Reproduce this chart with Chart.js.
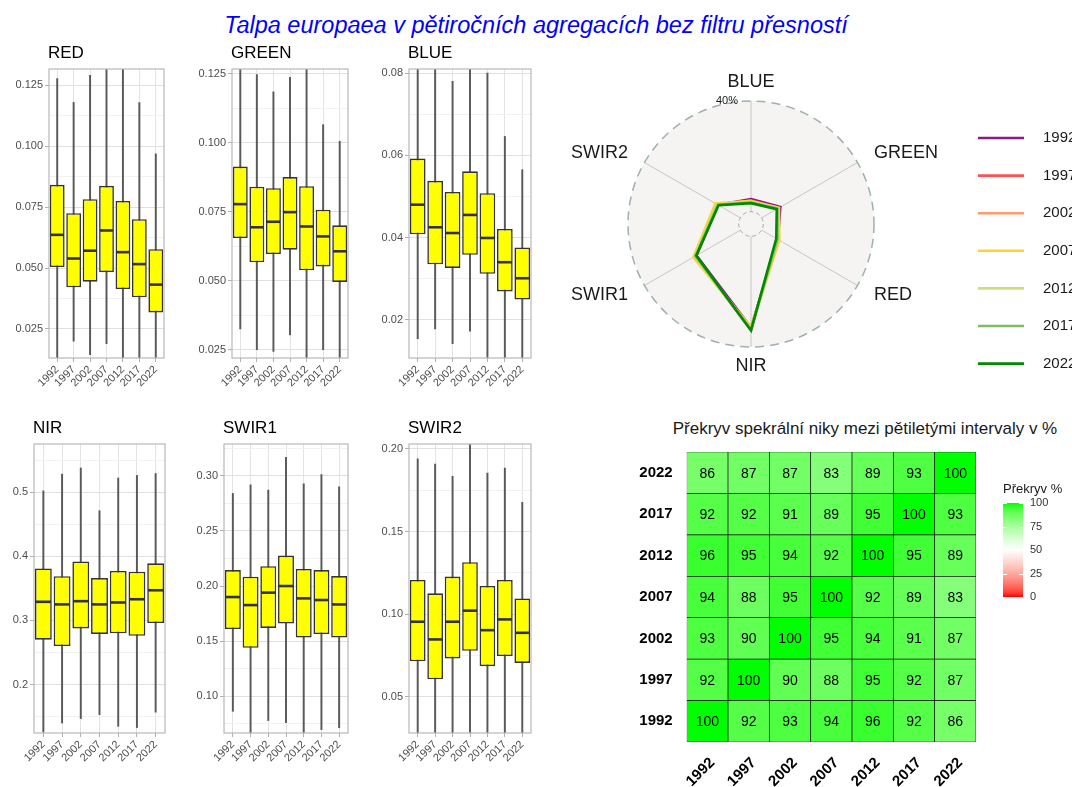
<!DOCTYPE html>
<html>
<head>
<meta charset="utf-8">
<script src="https://cdn.jsdelivr.net/npm/chart.js@4.4.1/dist/chart.umd.min.js"></script>
<style>
  body { margin: 0; width: 1072px; height: 787px; overflow: hidden; background: #fff; position: relative;
         font-family: "Liberation Sans", Arial, sans-serif; }
  canvas, .txt { position: absolute; }
  #mainTitle { left: 0; width: 1072px; top: 11px; text-align: center; color: #0000ff; font-style: italic; font-size: 23.5px; line-height: 28px; }
  .ptitle { font-size: 17px; line-height: 17px; color: #000; }
  #hmTitle { left: 615px; width: 500px; top: 419px; text-align: center; font-size: 17px; line-height: 20px; color: #1a1a1a; }
</style>
</head>
<body>
<div id="mainTitle" class="txt">Talpa europaea v pětiročních agregacích bez filtru přesností</div>
<div id="hmTitle" class="txt">Překryv spekrální niky mezi pětiletými intervaly v %</div>
<script>
Chart.defaults.font.family = '"Liberation Sans", Arial, sans-serif';

// pětileté intervaly
const years = ['1992', '1997', '2002', '2007', '2012', '2017', '2022'];

// reflektance po pásmech: whisker dole, Q1, medián, Q3, whisker nahoře
const redLo  = [0.0100, 0.0200, 0.0145, 0.0190, 0.0100, 0.0100, 0.0100];
const redQ1  = [0.0504, 0.0421, 0.0444, 0.0483, 0.0414, 0.0380, 0.0318];
const redMed = [0.0636, 0.0539, 0.0571, 0.0654, 0.0565, 0.0516, 0.0432];
const redQ3  = [0.0841, 0.0725, 0.0782, 0.0837, 0.0775, 0.0700, 0.0577];
const redHi  = [0.1277, 0.1179, 0.1290, 0.1350, 0.1350, 0.1178, 0.0968];

const greenLo  = [0.0325, 0.0250, 0.0244, 0.0304, 0.0200, 0.0250, 0.0200];
const greenQ1  = [0.0655, 0.0567, 0.0597, 0.0613, 0.0538, 0.0552, 0.0496];
const greenMed = [0.0778, 0.0694, 0.0714, 0.0749, 0.0697, 0.0661, 0.0607];
const greenQ3  = [0.0914, 0.0841, 0.0836, 0.0876, 0.0843, 0.0758, 0.0701];
const greenHi  = [0.1300, 0.1248, 0.1185, 0.1238, 0.1300, 0.1066, 0.1006];

const blueLo  = [0.0154, 0.0178, 0.0142, 0.0172, 0.0090, 0.0090, 0.0090];
const blueQ1  = [0.0408, 0.0335, 0.0326, 0.0358, 0.0312, 0.0269, 0.0249];
const blueMed = [0.0480, 0.0425, 0.0411, 0.0455, 0.0399, 0.0340, 0.0301];
const blueQ3  = [0.0592, 0.0538, 0.0511, 0.0561, 0.0508, 0.0421, 0.0376];
const blueHi  = [0.0830, 0.0830, 0.0780, 0.0830, 0.0800, 0.0646, 0.0565];

const nirLo  = [0.126, 0.140, 0.147, 0.153, 0.135, 0.133, 0.157];
const nirQ1  = [0.270, 0.260, 0.2875, 0.279, 0.280, 0.276, 0.296];
const nirMed = [0.329, 0.325, 0.330, 0.325, 0.328, 0.333, 0.347];
const nirQ3  = [0.381, 0.369, 0.392, 0.366, 0.377, 0.376, 0.389];
const nirHi  = [0.502, 0.528, 0.5375, 0.471, 0.522, 0.526, 0.529];

const swir1Lo  = [0.0864, 0.0600, 0.0780, 0.0760, 0.0600, 0.0697, 0.0715];
const swir1Q1  = [0.1610, 0.1440, 0.1620, 0.1660, 0.1533, 0.1564, 0.1533];
const swir1Med = [0.1900, 0.1827, 0.1940, 0.2000, 0.1888, 0.1873, 0.1833];
const swir1Q3  = [0.2145, 0.2085, 0.2180, 0.2276, 0.2155, 0.2145, 0.2090];
const swir1Hi  = [0.2840, 0.2918, 0.2870, 0.3167, 0.2927, 0.3010, 0.2900];

const swir2Lo  = [0.0250, 0.0250, 0.0250, 0.0250, 0.0250, 0.0250, 0.0250];
const swir2Q1  = [0.0716, 0.0607, 0.0733, 0.0779, 0.0686, 0.0747, 0.0706];
const swir2Med = [0.0955, 0.0848, 0.0955, 0.1022, 0.0904, 0.0969, 0.0888];
const swir2Q3  = [0.1208, 0.1127, 0.1228, 0.1315, 0.1171, 0.1208, 0.1096];
const swir2Hi  = [0.1940, 0.1909, 0.1834, 0.2100, 0.1854, 0.1885, 0.1677];

// popisky os y
const redTicks   = [0.025, 0.050, 0.075, 0.100, 0.125];
const greenTicks = [0.025, 0.050, 0.075, 0.100, 0.125];
const blueTicks  = [0.02, 0.04, 0.06, 0.08];
const nirTicks   = [0.2, 0.3, 0.4, 0.5];
const swir1Ticks = [0.10, 0.15, 0.20, 0.25, 0.30];
const swir2Ticks = [0.05, 0.10, 0.15, 0.20];

// radar: podíl pásem v % (BLUE, GREEN, RED, NIR, SWIR1, SWIR2)
const bands = ['BLUE', 'GREEN', 'RED', 'NIR', 'SWIR1', 'SWIR2'];
const niche1992 = [4.6, 7.8, 6.8, 33.0, 18.3, 9.3];
const niche1997 = [4.0, 7.2, 6.4, 34.0, 18.8, 9.4];
const niche2002 = [3.8, 7.0, 6.6, 33.6, 19.0, 9.8];
const niche2007 = [3.9, 7.2, 7.4, 32.8, 19.6, 10.4];
const niche2012 = [3.6, 6.9, 6.9, 33.4, 19.0, 9.8];
const niche2017 = [3.3, 6.6, 6.6, 33.8, 18.7, 9.4];
const niche2022 = [3.1, 6.3, 6.1, 34.0, 18.4, 9.1];
const yearColors = ['#8b1a8b', '#ff5252', '#ff9b6b', '#ffd22e', '#c9e07c', '#7fbc63', '#008a00'];

// překryv nik mezi intervaly (řádky odspodu 1992 -> 2022)
const overlap1992 = [100, 92, 93, 94, 96, 92, 86];
const overlap1997 = [92, 100, 90, 88, 95, 92, 87];
const overlap2002 = [93, 90, 100, 95, 94, 91, 87];
const overlap2007 = [94, 88, 95, 100, 92, 89, 83];
const overlap2012 = [96, 95, 94, 92, 100, 95, 89];
const overlap2017 = [92, 92, 91, 89, 95, 100, 93];
const overlap2022 = [86, 87, 87, 83, 89, 93, 100];
const scaleTicks = [0, 25, 50, 75, 100];

// ---------- boxploty ----------
const medianLines = {
  id: 'medianLines',
  afterDatasetsDraw(chart) {
    const meds = chart.data.datasets[0].medians;
    const y = chart.scales.y;
    const ctx = chart.ctx;
    ctx.save();
    ctx.strokeStyle = '#333333';
    ctx.lineWidth = 2.6;
    chart.getDatasetMeta(0).data.forEach((bar, i) => {
      const p = bar.getProps(['x', 'width'], true);
      const py = y.getPixelForValue(meds[i]);
      ctx.beginPath();
      ctx.moveTo(p.x - p.width / 2 + 0.8, py);
      ctx.lineTo(p.x + p.width / 2 - 0.8, py);
      ctx.stroke();
    });
    ctx.restore();
  }
};

const panelFrame = {
  id: 'panelFrame',
  afterDraw(chart) {
    const a = chart.chartArea;
    const ctx = chart.ctx;
    ctx.save();
    ctx.strokeStyle = '#b8b8b8';
    ctx.lineWidth = 1.2;
    ctx.strokeRect(a.left, a.top, a.right - a.left, a.bottom - a.top);
    ctx.restore();
  }
};

function boxPanel(p) {
  const [x0, y0, x1, y1] = p.area;
  const yw = 45, xh = 42, pt = 8, pr = 4;
  const cv = document.createElement('canvas');
  cv.width = x1 - x0 + yw + pr;
  cv.height = y1 - y0 + pt + xh;
  cv.style.left = (x0 - yw) + 'px';
  cv.style.top = (y0 - pt) + 'px';
  document.body.appendChild(cv);

  const t = document.createElement('div');
  t.className = 'txt ptitle';
  t.textContent = p.title;
  t.style.left = (x0 - 1) + 'px';
  t.style.top = (y0 - 25) + 'px';
  document.body.appendChild(t);

  // hlavní a vedlejší čáry mřížky
  const step = p.ticks[1] - p.ticks[0];
  const gridVals = [];
  for (let v = p.ticks[0] - step / 2; v <= p.max; v += step / 2) {
    if (v >= p.min) gridVals.push(+v.toFixed(6));
  }
  const isMajor = v => p.ticks.some(m => Math.abs(m - v) < 1e-7);

  new Chart(cv, {
    type: 'bar',
    data: {
      labels: years,
      datasets: [
        {
          data: p.q1.map((v, i) => [v, p.q3[i]]),
          medians: p.med,
          backgroundColor: '#ffff00',
          borderColor: '#333333',
          borderWidth: 1.6,
          borderSkipped: false,
          grouped: false,
          barPercentage: 0.9,
          categoryPercentage: 1,
          clip: 0,
          order: 0
        },
        {
          data: p.lo.map((v, i) => [v, p.hi[i]]),
          backgroundColor: '#595959',
          barThickness: 1.3,
          grouped: false,
          clip: 0,
          order: 1
        }
      ]
    },
    options: {
      responsive: false,
      animation: false,
      layout: { padding: { top: pt, right: pr } },
      plugins: { legend: { display: false }, tooltip: { enabled: false } },
      scales: {
        x: {
          grid: { offset: false, color: '#e3e3e3', tickLength: 4, tickColor: '#b0b0b0' },
          border: { display: false },
          ticks: { font: { size: 11 }, color: '#4d4d4d', minRotation: 45, maxRotation: 45, autoSkip: false, padding: 1 },
          afterFit: s => { s.height = xh; s.paddingLeft = 0; s.paddingRight = 0; }
        },
        y: {
          min: p.min,
          max: p.max,
          afterBuildTicks: s => { s.ticks = gridVals.map(v => ({ value: v })); },
          grid: {
            color: c => (c.tick && isMajor(c.tick.value)) ? '#e0e0e0' : '#f1f1f1',
            tickColor: c => (c.tick && isMajor(c.tick.value)) ? '#b0b0b0' : 'rgba(0,0,0,0)',
            tickLength: 4
          },
          border: { display: false },
          ticks: {
            font: { size: 11 }, color: '#4d4d4d', padding: 2,
            callback: v => isMajor(v) ? v.toFixed(p.dec) : ''
          },
          afterFit: s => { s.width = yw; s.paddingTop = 0; s.paddingBottom = 0; }
        }
      }
    },
    plugins: [medianLines, panelFrame]
  });
}

boxPanel({ title: 'RED', area: [49, 69, 164, 358], min: 0.0131, max: 0.1316, ticks: redTicks, dec: 3,
  lo: redLo, q1: redQ1, med: redMed, q3: redQ3, hi: redHi });
boxPanel({ title: 'GREEN', area: [232, 69, 348, 358], min: 0.0220, max: 0.1268, ticks: greenTicks, dec: 3,
  lo: greenLo, q1: greenQ1, med: greenMed, q3: greenQ3, hi: greenHi });
boxPanel({ title: 'BLUE', area: [409, 69, 531, 358], min: 0.0107, max: 0.0810, ticks: blueTicks, dec: 2,
  lo: blueLo, q1: blueQ1, med: blueMed, q3: blueQ3, hi: blueHi });
boxPanel({ title: 'NIR', area: [34, 444, 165, 733], min: 0.1245, max: 0.575, ticks: nirTicks, dec: 1,
  lo: nirLo, q1: nirQ1, med: nirMed, q3: nirQ3, hi: nirHi });
boxPanel({ title: 'SWIR1', area: [224, 444, 348, 733], min: 0.0667, max: 0.3288, ticks: swir1Ticks, dec: 2,
  lo: swir1Lo, q1: swir1Q1, med: swir1Med, q3: swir1Q3, hi: swir1Hi });
boxPanel({ title: 'SWIR2', area: [409, 444, 531, 733], min: 0.0282, max: 0.2030, ticks: swir2Ticks, dec: 2,
  lo: swir2Lo, q1: swir2Q1, med: swir2Med, q3: swir2Q3, hi: swir2Hi });

// ---------- radar ----------
const RADAR_LEFT = 531, RADAR_TOP = 60;
const radarBg = '#f5f4f2';
const radarDecor = {
  id: 'radarDecor',
  beforeDraw(chart) {
    const s = chart.scales.r, ctx = chart.ctx;
    ctx.save();
    ctx.fillStyle = radarBg;
    ctx.beginPath();
    ctx.arc(s.xCenter, s.yCenter, s.getDistanceFromCenterForValue(40), 0, Math.PI * 2);
    ctx.fill();
    ctx.restore();
  },
  beforeDatasetsDraw(chart) {
    const s = chart.scales.r, ctx = chart.ctx;
    const rIn = s.getDistanceFromCenterForValue(0);
    const rOut = s.getDistanceFromCenterForValue(40);
    ctx.save();
    ctx.fillStyle = radarBg;
    ctx.beginPath();
    ctx.arc(s.xCenter, s.yCenter, rIn, 0, Math.PI * 2);
    ctx.fill();
    ctx.setLineDash([4, 3]);
    ctx.strokeStyle = '#a8a8a8';
    ctx.lineWidth = 1;
    ctx.stroke();
    ctx.setLineDash([9, 6]);
    ctx.strokeStyle = '#9fb0b0';
    ctx.lineWidth = 1.5;
    ctx.beginPath();
    ctx.arc(s.xCenter, s.yCenter, rOut, 0, Math.PI * 2);
    ctx.stroke();
    ctx.setLineDash([]);
    ctx.fillStyle = '#1a1a1a';
    ctx.font = '11px "Liberation Sans", Arial, sans-serif';
    ctx.textAlign = 'right';
    ctx.textBaseline = 'middle';
    ctx.fillText('40%', s.xCenter - 13, s.yCenter - rOut);

    // názvy pásem kolem kruhu
    ctx.font = '18px "Liberation Sans", Arial, sans-serif';
    ctx.fillStyle = '#1a1a1a';
    chart.data.labels.forEach((lab, i) => {
      const pos = s.getPointPosition(i, rOut + 19);
      const dx = pos.x - s.xCenter;
      ctx.textAlign = Math.abs(dx) < 1 ? 'center' : (dx > 0 ? 'left' : 'right');
      ctx.fillText(lab, pos.x, pos.y);
    });
    ctx.restore();
  },
  afterDraw(chart) {
    const ctx = chart.ctx;
    ctx.save();
    ctx.font = '15px "Liberation Sans", Arial, sans-serif';
    ctx.textAlign = 'left';
    ctx.textBaseline = 'middle';
    chart.data.datasets.forEach((ds, i) => {
      const y = 138 - RADAR_TOP + i * 37.6;
      ctx.strokeStyle = ds.borderColor;
      ctx.lineWidth = 2.6;
      ctx.beginPath();
      ctx.moveTo(978 - RADAR_LEFT, y);
      ctx.lineTo(1024 - RADAR_LEFT, y);
      ctx.stroke();
      ctx.fillStyle = '#1a1a1a';
      ctx.fillText(ds.label, 1043 - RADAR_LEFT, y);
    });
    ctx.restore();
  }
};

const radarCanvas = document.createElement('canvas');
radarCanvas.width = 580;
radarCanvas.height = 330;
radarCanvas.style.left = RADAR_LEFT + 'px';
radarCanvas.style.top = RADAR_TOP + 'px';
document.body.appendChild(radarCanvas);

const nicheSeries = [niche1992, niche1997, niche2002, niche2007, niche2012, niche2017, niche2022];
new Chart(radarCanvas, {
  type: 'radar',
  data: {
    labels: bands,
    datasets: nicheSeries.map((d, i) => ({
      label: years[i],
      data: d,
      borderColor: yearColors[i],
      borderWidth: 2.6,
      fill: false,
      pointRadius: 0,
      tension: 0,
      order: years.length - i
    }))
  },
  options: {
    responsive: false,
    animation: false,
    layout: { padding: { left: 97, top: 41, right: 237, bottom: 43 } },
    plugins: { legend: { display: false }, tooltip: { enabled: false } },
    scales: {
      r: {
        min: -40 / 9,
        max: 40,
        ticks: { display: false },
        grid: { display: false },
        angleLines: { color: '#c6c6c6', lineWidth: 1 },
        pointLabels: { display: false }
      }
    }
  },
  plugins: [radarDecor]
});

// ---------- heatmapa překryvu ----------
const HM_LEFT = 620, HM_TOP = 445;
function overlapColor(v) {
  const t = Math.abs(v - 50) / 50;
  const k = Math.pow(1 - t, 0.6);
  const soft = Math.round(255 * k), softer = Math.round(255 * Math.pow(k, 1.15));
  return v >= 50 ? `rgb(${soft},255,${softer})` : `rgb(255,${soft},${softer})`;
}

const cellLabels = {
  id: 'cellLabels',
  afterDatasetsDraw(chart) {
    const ctx = chart.ctx;
    ctx.save();
    ctx.fillStyle = '#000';
    ctx.font = '14px "Liberation Sans", Arial, sans-serif';
    ctx.textAlign = 'center';
    ctx.textBaseline = 'middle';
    chart.data.datasets.forEach((ds, di) => {
      chart.getDatasetMeta(di).data.forEach((el, i) => {
        const p = el.getProps(['x', 'y', 'base'], true);
        ctx.fillText(ds.values[i], p.x, (p.y + p.base) / 2 + 1);
      });
    });
    ctx.restore();
  }
};

const colorBar = {
  id: 'colorBar',
  afterDraw(chart) {
    const ctx = chart.ctx;
    const bx = 1003 - HM_LEFT, bw = 20;
    const top = 503 - HM_TOP, bottom = 597 - HM_TOP;
    const yOf = v => bottom - (v / 100) * (bottom - top);
    ctx.save();
    const g = ctx.createLinearGradient(0, top, 0, bottom);
    for (let v = 100; v >= 0; v -= 5) g.addColorStop((100 - v) / 100, overlapColor(v));
    ctx.fillStyle = g;
    ctx.fillRect(bx, top, bw, bottom - top);
    ctx.strokeStyle = '#fff';
    ctx.lineWidth = 1;
    ctx.font = '11px "Liberation Sans", Arial, sans-serif';
    ctx.textAlign = 'left';
    ctx.textBaseline = 'middle';
    scaleTicks.forEach(v => {
      const y = Math.round(yOf(v)) + 0.5;
      ctx.beginPath();
      ctx.moveTo(bx, y); ctx.lineTo(bx + 4, y);
      ctx.moveTo(bx + bw - 4, y); ctx.lineTo(bx + bw, y);
      ctx.stroke();
      ctx.fillStyle = '#333';
      ctx.fillText(String(v), bx + bw + 7, yOf(v));
    });
    ctx.fillStyle = '#1a1a1a';
    ctx.font = '13px "Liberation Sans", Arial, sans-serif';
    ctx.fillText('Překryv %', bx, 489 - HM_TOP);
    ctx.restore();
  }
};

const hmCanvas = document.createElement('canvas');
hmCanvas.width = 490;
hmCanvas.height = 342;
hmCanvas.style.left = HM_LEFT + 'px';
hmCanvas.style.top = HM_TOP + 'px';
document.body.appendChild(hmCanvas);

const overlapRows = [overlap1992, overlap1997, overlap2002, overlap2007, overlap2012, overlap2017, overlap2022];
new Chart(hmCanvas, {
  type: 'bar',
  data: {
    labels: years,
    datasets: overlapRows.map((row, r) => ({
      label: years[r],
      data: row.map(() => 1),
      values: row,
      backgroundColor: row.map(overlapColor),
      borderColor: '#1a1a1a',
      borderWidth: 0.7,
      borderSkipped: false,
      barPercentage: 1,
      categoryPercentage: 1
    }))
  },
  options: {
    responsive: false,
    animation: false,
    layout: { padding: { top: 7, right: 490 - (976 - HM_LEFT), left: 0, bottom: 0 } },
    plugins: { legend: { display: false }, tooltip: { enabled: false } },
    scales: {
      x: {
        stacked: true,
        grid: { display: false, drawTicks: false },
        border: { display: false },
        ticks: { font: { size: 15, weight: 'bold' }, color: '#000', minRotation: 45, maxRotation: 45, autoSkip: false, labelOffset: 5, padding: 12 },
        afterFit: s => { s.height = 45; s.paddingLeft = 0; s.paddingRight = 0; }
      },
      y: {
        stacked: true,
        min: 0,
        max: years.length,
        grid: { display: false, drawTicks: false },
        border: { display: false },
        afterBuildTicks: s => { s.ticks = years.map((_, i) => ({ value: i + 0.5 })); },
        ticks: { font: { size: 15, weight: 'bold' }, color: '#000', padding: 14, callback: (v, i) => years[i] },
        afterFit: s => { s.width = 686.7 - HM_LEFT; s.paddingTop = 0; s.paddingBottom = 0; }
      }
    }
  },
  plugins: [cellLabels, colorBar]
});
</script>
</body>
</html>
